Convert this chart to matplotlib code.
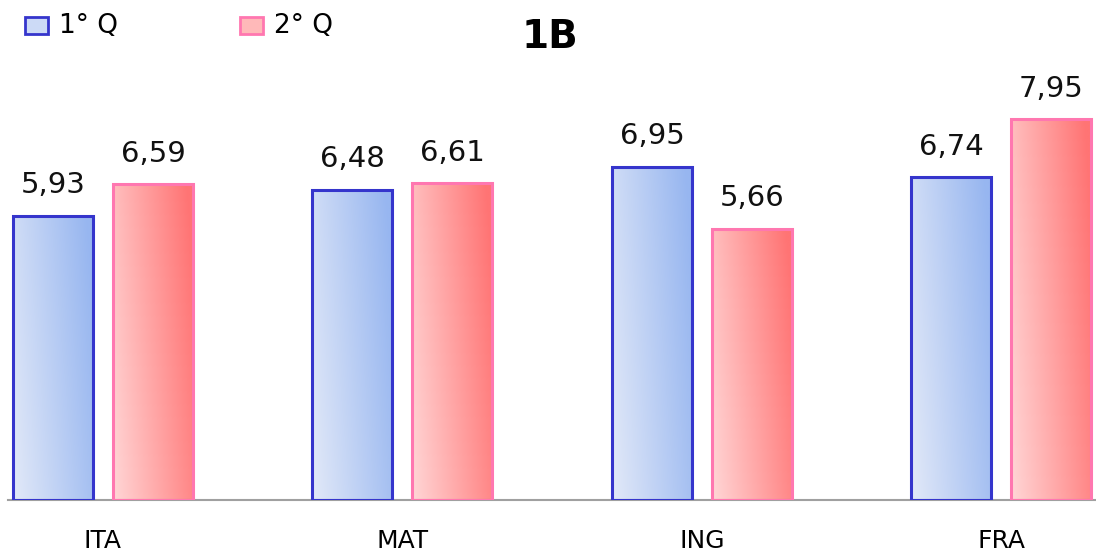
import numpy as np
import matplotlib
matplotlib.use("Agg")
import matplotlib.pyplot as plt
from matplotlib.colors import LinearSegmentedColormap
from matplotlib.patches import Rectangle

categories = ["ITA", "MAT", "ING", "FRA"]
q1_values = [5.93, 6.48, 6.95, 6.74]
q2_values = [6.59, 6.61, 5.66, 7.95]
series_names = ["1° Q", "2° Q"]
title = "1B"

W, H = 1096, 558
fig = plt.figure(figsize=(W / 100, H / 100), dpi=100)
ax = fig.add_axes([8 / W, 58 / H, (W - 8) / W, 500 / H])

blue_cmap = LinearSegmentedColormap.from_list("b", ["#e2e9f8", "#97b6f0"])
pink_cmap = LinearSegmentedColormap.from_list("p", ["#ffd6d6", "#ff7474"])
styles = [(blue_cmap, "#3535cc"), (pink_cmap, "#ff77b0")]

# diagonal gradient (light bottom-left -> darker top-right)
gx, gy = np.meshgrid(np.linspace(0, 1, 64), np.linspace(0, 1, 64))
grad = np.clip(0.8 * gx + 0.25 * gy, 0, 1)

width = 0.267
offsets = [-0.167, 0.167]
x = np.arange(len(categories))

for vals, off, (cmap, edge) in zip([q1_values, q2_values], offsets, styles):
    for xi, v in zip(x, vals):
        x0 = xi + off - width / 2
        ax.imshow(grad, cmap=cmap, extent=[x0, x0 + width, 0, v], origin="lower",
                  aspect="auto", zorder=2, interpolation="bilinear", vmin=0, vmax=1)
        ax.add_patch(Rectangle((x0, 0), width, v, fill=False, edgecolor=edge,
                               linewidth=2.2, zorder=3))
        ax.annotate(f"{v:.2f}".replace(".", ","), (xi + off, v), xytext=(0, 12),
                    textcoords="offset points", ha="center", va="bottom",
                    fontsize=21, color="#111111")

ax.set_xlim(-0.317, 3.316)
ax.set_ylim(0, 10.44)
ax.set_xticks(x)
ax.set_xticklabels(categories, fontsize=18)
ax.tick_params(axis="x", length=0, pad=21)
ax.set_yticks([])
for s in ["top", "right", "left"]:
    ax.spines[s].set_visible(False)
ax.spines["bottom"].set_color("#a0a0a0")
ax.spines["bottom"].set_linewidth(1.5)

fig.text(550 / W, 1 - 37 / H, title, ha="center", va="center",
         fontsize=28, fontweight="bold")

# legend
legend_x = [25, 240]
for lx, name, (cmap, edge) in zip(legend_x, series_names, styles):
    fig.add_artist(Rectangle((lx / W, 1 - 34 / H), 23 / W, 17 / H,
                             transform=fig.transFigure, facecolor=cmap(0.3),
                             edgecolor=edge, linewidth=2))
    fig.text((lx + 34) / W, 1 - 26 / H, name, ha="left", va="center", fontsize=19)

fig.savefig("out.png", dpi=100)
